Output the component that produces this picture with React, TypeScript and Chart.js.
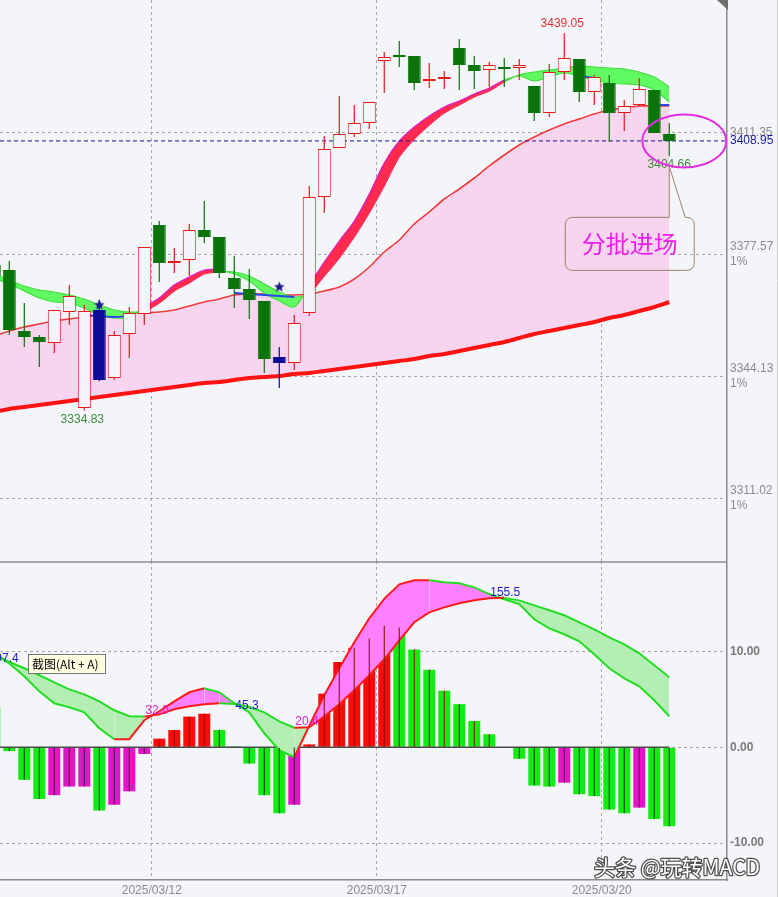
import React, { useEffect, useRef } from 'react';
import { Chart, registerables } from 'chart.js';

Chart.register(...registerables);

// ---- bar index range (first bar is only partly inside the plot) ----
const FIRST_INDEX = -1;

// ---- session separators and their date labels ----
const sessionBreaks = [9.5, 24.5, 39.5];
const sessionDates = ['2025/03/12', '2025/03/17', '2025/03/20'];

// ---- price bars ----
const opens = [3374.6, 3373.25, 3356.51, 3354.87, 3353.22, 3361.71, 3335.5, 3362.26, 3343.67, 3355.69, 3361.17, 3385.66, 3375.17, 3376.0, 3384.27, 3382.34, 3371.05, 3368.03, 3364.73, 3349.4, 3347.76, 3361.44, 3393.4, 3406.98, 3410.88, 3413.94, 3431.25, 3432.65, 3432.65, 3425.65, 3426.21, 3434.89, 3430.13, 3428.73, 3429.57, 3429.29, 3424.25, 3416.72, 3428.17, 3431.81, 3422.58, 3425.1, 3416.72, 3418.96, 3423.14, 3410.88];
const highs = [3377.0, 3375.73, 3364.18, 3355.42, 3362.3, 3369.13, 3363.63, 3365.01, 3356.51, 3363.09, 3379.58, 3386.76, 3379.31, 3385.93, 3392.29, 3382.34, 3377.1, 3373.52, 3364.73, 3352.13, 3360.89, 3396.44, 3410.32, 3421.47, 3418.96, 3419.79, 3433.76, 3436.85, 3432.65, 3430.69, 3428.45, 3437.41, 3432.65, 3430.97, 3432.08, 3431.81, 3424.25, 3430.41, 3439.05, 3431.81, 3427.33, 3427.33, 3420.35, 3426.49, 3423.14, 3413.94];
const lows = [3368.0, 3355.42, 3352.13, 3346.67, 3350.49, 3358.15, 3334.83, 3342.8, 3343.13, 3349.13, 3358.15, 3369.95, 3372.43, 3371.6, 3380.69, 3371.05, 3362.81, 3359.8, 3345.04, 3340.94, 3345.85, 3360.62, 3388.97, 3406.98, 3410.04, 3412.27, 3422.31, 3429.57, 3423.14, 3423.7, 3423.42, 3423.14, 3423.42, 3423.97, 3423.97, 3425.93, 3414.49, 3415.61, 3425.93, 3419.79, 3418.96, 3408.65, 3411.71, 3418.68, 3411.16, 3404.66];
const closes = [3371.6, 3356.78, 3354.87, 3353.5, 3362.26, 3366.1, 3361.99, 3343.13, 3355.42, 3361.44, 3379.58, 3375.17, 3375.73, 3384.27, 3382.34, 3372.43, 3368.03, 3365.01, 3348.85, 3347.76, 3358.7, 3393.4, 3406.71, 3410.88, 3413.94, 3419.79, 3432.36, 3432.36, 3425.1, 3426.21, 3426.49, 3430.13, 3428.45, 3430.13, 3429.01, 3430.13, 3416.72, 3428.17, 3432.08, 3422.58, 3426.77, 3416.72, 3418.68, 3423.42, 3411.16, 3408.95];

// bars flagged by the signal rule, and where the star sits
const signalBars = [6, 18];
const signalMarks = [3363.63, 3368.57];

// ---- moving averages ----
const maFast = [3371.05, 3369.4, 3367.48, 3365.56, 3364.46, 3364.18, 3362.81, 3360.89, 3360.07, 3360.34, 3363.09, 3365.56, 3369.13, 3371.33, 3373.25, 3373.25, 3372.15, 3370.23, 3366.93, 3364.73, 3363.09, 3369.13, 3375.45, 3381.24, 3386.76, 3394.23, 3402.82, 3408.93, 3412.83, 3415.89, 3418.4, 3420.07, 3422.02, 3423.7, 3425.93, 3427.05, 3425.65, 3426.77, 3427.89, 3427.05, 3425.93, 3425.1, 3424.82, 3424.54, 3423.14, 3419.79];
const maSlow = [3372.15, 3370.5, 3368.85, 3367.75, 3367.2, 3366.38, 3365.28, 3363.63, 3362.26, 3361.71, 3361.99, 3364.18, 3367.48, 3369.68, 3372.15, 3372.7, 3372.7, 3371.6, 3369.4, 3367.2, 3365.83, 3366.93, 3371.6, 3376.55, 3382.34, 3388.97, 3396.44, 3404.48, 3409.49, 3413.38, 3416.72, 3418.95, 3421.19, 3422.86, 3425.38, 3427.33, 3428.17, 3428.73, 3429.29, 3429.85, 3429.57, 3429.29, 3429.01, 3428.17, 3426.77, 3423.98];
const maBlue = [null, null, null, null, null, null, 3360.89, 3360.62, 3360.34, 3360.62, null, null, null, null, null, null, 3366.93, 3366.65, 3366.38, 3366.1, 3365.83, null, null, null, null, null, null, null, null, null, null, null, null, null, null, null, null, null, null, 3427.05, 3426.49, null, null, null, 3418.95, 3418.95];
const maMid = [3355.14, 3356.51, 3357.61, 3358.43, 3359.25, 3359.8, 3360.34, 3360.89, 3361.17, 3361.44, 3361.44, 3361.71, 3362.26, 3363.36, 3364.46, 3365.28, 3366.38, 3366.65, 3366.65, 3366.38, 3366.38, 3366.65, 3367.48, 3368.57, 3370.78, 3374.08, 3378.21, 3381.51, 3385.93, 3389.25, 3392.84, 3395.61, 3398.66, 3401.99, 3405.04, 3407.82, 3410.04, 3411.99, 3413.66, 3415.05, 3416.44, 3417.56, 3418.12, 3418.68, 3418.68, 3418.68];
const maLong = [3334.41, 3335.23, 3335.77, 3336.32, 3336.86, 3337.4, 3337.95, 3338.49, 3339.04, 3339.58, 3340.13, 3340.67, 3341.22, 3341.76, 3342.31, 3342.58, 3343.13, 3343.67, 3343.94, 3344.21, 3344.76, 3345.04, 3345.58, 3346.12, 3346.67, 3347.22, 3347.76, 3348.31, 3348.85, 3349.67, 3350.22, 3351.04, 3351.86, 3352.68, 3353.5, 3354.59, 3355.69, 3356.51, 3357.33, 3358.15, 3358.97, 3360.07, 3360.89, 3361.99, 3363.09, 3364.46];

// price axis ticks
const priceTicks = [3311.02, 3344.13, 3377.57, 3411.35];

// ---- MACD ----
const macdHist = [4.2, -0.4, -3.4, -5.4, -5.0, -4.1, -4.1, -6.6, -6.0, -4.6, -0.7, 0.9, 1.8, 3.2, 3.5, 1.8, 0.1, -1.7, -5.0, -6.9, -6.0, 0.3, 5.6, 8.9, 10.4, 11.35, 12.7, 12.5, 10.2, 8.1, 5.9, 4.5, 2.75, 1.36, -0.05, -1.2, -4.0, -4.1, -3.7, -4.9, -5.1, -6.5, -6.9, -6.3, -7.5, -8.25];
const difLine = [97.4, 87.5, 74.1, 58.5, 45.9, 41.8, 36.5, 19.8, 8.4, 8.4, 28.2, 37.6, 48.0, 57.4, 61.6, 57.4, 46.0, 36.5, 14.6, -3.1, -10.4, 22.5, 54.3, 82.5, 109.6, 134.7, 155.0, 170.1, 174.3, 174.3, 172.2, 171.2, 167.0, 160.0, 154.5, 149.5, 133.6, 124.2, 118.0, 110.6, 97.1, 82.5, 72.0, 63.7, 49.1, 32.4];
const deaLine = [97.4, 89.0, 82.5, 75.2, 67.8, 60.5, 55.3, 48.0, 38.6, 32.4, 32.0, 34.4, 39.7, 42.8, 44.9, 46.0, 45.3, 42.1, 36.5, 27.1, 20.4, 20.9, 32.4, 44.9, 59.5, 75.2, 91.9, 111.7, 130.5, 140.9, 146.1, 150.3, 153.4, 155.5, 156.0, 153.4, 148.2, 143.0, 137.8, 130.5, 123.2, 114.8, 107.5, 98.1, 85.6, 73.1];
const crossIndex = [-1, 9, 15, 19, 32];
const macdTicks = [-10, 0, 10];

// ---- look ----
const BG = '#f4f5f9';
const UP = '#e21c1c';
const DOWN = '#0a740a';
const SIGNAL = '#0c0c98';
const GRID = 'rgba(150,150,150,0.8)';
const AXIS = '#8a8a8a';
const PINK = '#f8d5ef';
const RIBBON_UP = 'rgb(255,42,78)';
const RIBBON_DOWN = 'rgb(98,250,98)';
const HIST_UP = '#ff0a0a';
const HIST_GREEN = '#12ec12';
const HIST_MAGENTA = '#e614c8';
const LINE_UP = '#ff1a1a';
const LINE_DOWN = '#22dd22';
const FONT = '"Liberation Sans", Arial, sans-serif';
const CJK = '"Noto Sans CJK SC", "Liberation Sans", sans-serif';

const X_MIN = -0.62;
const X_MAX = 47.85;
const PRICE_MIN = 3294.13;
const PRICE_MAX = 3448.36;
const MACD_MIN = -13.86;
const MACD_MAX = 19.45;
const crossLabelShift: Record<number, number> = { [-1]: 5, 9: -6, 15: 2, 19: -6, 32: -6 };

const xs = opens.map((_, k) => k + FIRST_INDEX);
const lastPrice = closes[closes.length - 1];
const pts = (arr: (number | null)[]) => arr.map((v, k) => ({ x: xs[k], y: v }));

function makeStar(r: number, color: string) {
  const c = document.createElement('canvas');
  const s = Math.ceil(r * 2 + 2);
  c.width = s;
  c.height = s;
  const g = c.getContext('2d')!;
  g.fillStyle = color;
  g.beginPath();
  for (let k = 0; k < 10; k++) {
    const rr = k % 2 === 0 ? r : r * 0.45;
    const a = -Math.PI / 2 + (k * Math.PI) / 5;
    const px = s / 2 + rr * Math.cos(a);
    const py = s / 2 + rr * Math.sin(a);
    if (k === 0) g.moveTo(px, py);
    else g.lineTo(px, py);
  }
  g.closePath();
  g.fill();
  return c;
}

function xAxis(withLabels: boolean) {
  return {
    type: 'linear',
    min: X_MIN,
    max: X_MAX,
    offset: false,
    afterBuildTicks: (s: any) => {
      s.ticks = sessionBreaks.map((v) => ({ value: v }));
    },
    ticks: {
      display: withLabels,
      autoSkip: false,
      maxRotation: 0,
      padding: 3,
      color: AXIS,
      font: { size: 12, family: FONT },
      callback: (_v: any, i: number) => sessionDates[i],
    },
    grid: { color: GRID, lineWidth: 1, drawTicks: false, offset: false },
    border: { display: withLabels, color: AXIS, width: 1.5, dash: [3, 3] },
    afterFit: (s: any) => {
      s.paddingLeft = 0;
      s.paddingRight = 0;
      s.height = withLabels ? 17 : 0;
    },
  };
}

const ribbonUp = (k: number) => maFast[k] >= maSlow[k] && maFast[k + 1] >= maSlow[k + 1];

const topOverlay = {
  id: 'topOverlay',
  afterDraw(chart: any) {
    const { ctx, chartArea } = chart;
    const sx = chart.scales.x;
    const sy = chart.scales.y;
    const px = (i: number) => sx.getPixelForValue(i);
    const py = (v: number) => sy.getPixelForValue(v);
    ctx.save();

    // extreme price notes
    let hi = 1;
    let lo = 1;
    for (let k = 1; k < highs.length; k++) {
      if (highs[k] > highs[hi]) hi = k;
      if (lows[k] < lows[lo]) lo = k;
    }
    const last = highs.length - 1;
    ctx.font = `12px ${FONT}`;
    ctx.textAlign = 'center';
    ctx.textBaseline = 'middle';
    ctx.fillStyle = '#e0303a';
    ctx.fillText(highs[hi].toFixed(2), px(xs[hi]) - 2, py(highs[hi]) - 9);
    ctx.fillStyle = '#3d8a3d';
    ctx.fillText(lows[lo].toFixed(2), px(xs[lo]) - 2, py(lows[lo]) + 9);
    ctx.fillText(lows[last].toFixed(2), px(xs[last]), py(lows[last]) + 8);

    // last price on the axis
    ctx.textAlign = 'left';
    ctx.fillStyle = '#1a1aa0';
    ctx.fillText(lastPrice.toFixed(2), chartArea.right + 3, py(lastPrice));

    // circled last bar
    ctx.strokeStyle = '#e42ee4';
    ctx.lineWidth = 2;
    ctx.beginPath();
    ctx.ellipse(px(xs[last]) + 15, py(lastPrice), 42, 26.5, 0, 0, Math.PI * 2);
    ctx.stroke();

    // callout
    const ax = px(xs[last]);
    const ay = py(lows[last]) + 10;
    const left = ax - 104;
    const right = ax + 25;
    const top = ay + 51;
    const bottom = top + 53;
    const r = 7;
    ctx.beginPath();
    ctx.moveTo(left + r, top);
    ctx.lineTo(ax, top);
    ctx.lineTo(ax, ay);
    ctx.lineTo(ax + 16, top);
    ctx.lineTo(right - r, top);
    ctx.arcTo(right, top, right, top + r, r);
    ctx.lineTo(right, bottom - r);
    ctx.arcTo(right, bottom, right - r, bottom, r);
    ctx.lineTo(left + r, bottom);
    ctx.arcTo(left, bottom, left, bottom - r, r);
    ctx.lineTo(left, top + r);
    ctx.arcTo(left, top, left + r, top, r);
    ctx.closePath();
    ctx.strokeStyle = '#9a8266';
    ctx.lineWidth = 1;
    ctx.stroke();
    ctx.font = `24px ${CJK}`;
    ctx.textAlign = 'center';
    ctx.fillStyle = '#ee1fee';
    ctx.fillText('分批进场', (left + right) / 2, (top + bottom) / 2);

    // corner mark and outer frame
    ctx.fillStyle = '#6e6e6e';
    ctx.beginPath();
    ctx.moveTo(chartArea.right - 10, 0);
    ctx.lineTo(chartArea.right + 1, 0);
    ctx.lineTo(chartArea.right + 1, 10);
    ctx.closePath();
    ctx.fill();
    ctx.strokeStyle = '#cfcfcf';
    ctx.lineWidth = 1;
    ctx.beginPath();
    ctx.moveTo(777.5, 0);
    ctx.lineTo(777.5, chart.height);
    ctx.stroke();
    ctx.restore();
  },
};

const bottomOverlay = {
  id: 'bottomOverlay',
  afterDraw(chart: any) {
    const { ctx, chartArea } = chart;
    const sx = chart.scales.x;
    const s2 = chart.scales.y2;
    ctx.save();

    // panel separator
    ctx.strokeStyle = '#8c8c8c';
    ctx.lineWidth = 1.5;
    ctx.beginPath();
    ctx.moveTo(0, 1);
    ctx.lineTo(chartArea.right, 1);
    ctx.stroke();

    // cross values
    ctx.font = `12px ${FONT}`;
    ctx.textAlign = 'left';
    ctx.textBaseline = 'middle';
    crossIndex.forEach((i) => {
      const k = i - FIRST_INDEX;
      const golden = difLine[k + 1] > deaLine[k + 1];
      ctx.fillStyle = golden ? '#e01ed2' : '#1c1cc8';
      ctx.fillText(
        deaLine[k].toFixed(1),
        sx.getPixelForValue(i) + 1,
        s2.getPixelForValue(deaLine[k]) + (crossLabelShift[i] ?? -6)
      );
    });

    // hint box
    ctx.fillStyle = '#ffffe1';
    ctx.fillRect(28.5, 93.5, 77, 19);
    ctx.strokeStyle = '#767676';
    ctx.lineWidth = 1;
    ctx.strokeRect(28.5, 93.5, 77, 19);
    ctx.fillStyle = '#000';
    ctx.font = `12px ${CJK}`;
    ctx.fillText('截图(Alt + A)', 32, 103.5);

    // signature
    ctx.font = `21px ${CJK}`;
    ctx.textAlign = 'right';
    ctx.lineJoin = 'round';
    ctx.strokeStyle = 'rgba(60,60,60,0.9)';
    ctx.lineWidth = 2.5;
    ctx.strokeText('头条 @玩转MACD', 760, 306);
    ctx.fillStyle = '#ffffff';
    ctx.fillText('头条 @玩转MACD', 760, 306);

    ctx.strokeStyle = '#cfcfcf';
    ctx.lineWidth = 1;
    ctx.beginPath();
    ctx.moveTo(777.5, 0);
    ctx.lineTo(777.5, chart.height);
    ctx.stroke();
    ctx.restore();
  },
};

function topConfig(): any {
  const isUp = closes.map((c, k) => c >= opens[k]);
  const isSignal = xs.map((x) => signalBars.includes(x));
  const bodyFill = xs.map((_, k) => (isSignal[k] ? SIGNAL : isUp[k] ? BG : DOWN));
  const bodyLine = xs.map((_, k) => (isSignal[k] ? SIGNAL : isUp[k] ? UP : DOWN));
  const star = makeStar(5.5, '#1c1c8c');

  return {
    type: 'line',
    data: {
      datasets: [
        {
          data: pts(maMid),
          borderColor: '#f03c3c',
          borderWidth: 1.6,
          pointRadius: 0,
          tension: 0.3,
          fill: 1,
          backgroundColor: PINK,
          order: 10,
        },
        {
          data: pts(maLong),
          borderColor: '#ff1212',
          borderWidth: 4,
          pointRadius: 0,
          tension: 0.3,
          order: 9,
        },
        {
          data: pts(maFast),
          borderWidth: 1.2,
          pointRadius: 0,
          tension: 0.3,
          fill: { target: 3, above: RIBBON_UP, below: RIBBON_DOWN },
          segment: { borderColor: (c: any) => (ribbonUp(c.p0DataIndex) ? '#d81ccf' : '#3fe03f') },
          order: 8,
        },
        {
          data: pts(maSlow),
          borderWidth: 1.2,
          pointRadius: 0,
          tension: 0.3,
          segment: { borderColor: (c: any) => (ribbonUp(c.p0DataIndex) ? '#ff2c5a' : '#3fe03f') },
          order: 7,
        },
        {
          data: pts(maBlue),
          borderColor: '#2a46e6',
          borderWidth: 1.8,
          pointRadius: 0,
          tension: 0.3,
          order: 6,
        },
        {
          data: [
            { x: X_MIN, y: lastPrice },
            { x: X_MAX, y: lastPrice },
          ],
          borderColor: '#16168e',
          borderWidth: 1,
          borderDash: [4, 3],
          pointRadius: 0,
          order: 5,
        },
        {
          type: 'bar',
          data: xs.map((x, k) => ({ x, y: [lows[k], highs[k]] })),
          backgroundColor: bodyLine,
          grouped: false,
          barPercentage: 1,
          categoryPercentage: 1.2 / 15,
          order: 4,
        },
        {
          type: 'bar',
          data: xs.map((x, k) => ({ x, y: [opens[k], closes[k]] })),
          backgroundColor: bodyFill,
          borderColor: bodyLine,
          borderWidth: 1,
          borderSkipped: false,
          minBarLength: 2,
          grouped: false,
          barPercentage: 1,
          categoryPercentage: 13 / 15,
          order: 3,
        },
        {
          data: signalBars.map((x, k) => ({ x, y: signalMarks[k] })),
          showLine: false,
          pointStyle: star,
          pointRadius: 5,
          order: 2,
        },
      ],
    },
    options: {
      animation: false,
      responsive: false,
      events: [],
      layout: { padding: 0, autoPadding: false },
      plugins: { legend: { display: false }, tooltip: { enabled: false } },
      scales: {
        x: xAxis(false),
        y: {
          type: 'logarithmic',
          position: 'right',
          min: PRICE_MIN,
          max: PRICE_MAX,
          bounds: 'data',
          afterBuildTicks: (s: any) => {
            s.ticks = priceTicks.map((v) => ({ value: v }));
          },
          ticks: {
            padding: 3,
            color: '#8c8c8c',
            font: { size: 12, family: FONT },
            callback: (_v: any, i: number) =>
              i === priceTicks.length - 1 ? priceTicks[i].toFixed(2) : [priceTicks[i].toFixed(2), '1%'],
          },
          grid: { color: GRID, lineWidth: 1, drawTicks: false },
          border: { display: true, color: AXIS, width: 1.5, dash: [3, 3] },
          afterFit: (s: any) => {
            s.width = 51;
            s.paddingTop = 0;
            s.paddingBottom = 0;
          },
        },
      },
    },
    plugins: [topOverlay],
  };
}

function bottomConfig(): any {
  const histColor = macdHist.map((v, k) => {
    const prev = k > 0 ? macdHist[k - 1] : Infinity;
    if (v >= 0) return v >= prev ? HIST_UP : HIST_GREEN;
    return v < prev ? HIST_GREEN : HIST_MAGENTA;
  });
  const stickColor = macdHist.map((v) => (v >= 0 ? '#8a1500' : 'rgba(35,35,35,0.85)'));
  const slopeColor = (arr: number[]) => (c: any) =>
    arr[c.p1DataIndex] >= arr[c.p0DataIndex] ? LINE_UP : LINE_DOWN;

  return {
    type: 'line',
    data: {
      datasets: [
        {
          type: 'bar',
          data: pts(macdHist),
          backgroundColor: histColor,
          grouped: false,
          barPercentage: 1,
          categoryPercentage: 0.8,
          yAxisID: 'y',
          order: 10,
        },
        {
          data: [
            { x: xs[0], y: 0 },
            { x: xs[xs.length - 1], y: 0 },
          ],
          borderColor: '#4a4a4a',
          borderWidth: 1.5,
          pointRadius: 0,
          yAxisID: 'y',
          order: 9,
        },
        {
          data: pts(difLine),
          yAxisID: 'y2',
          borderWidth: 2,
          pointRadius: 0,
          fill: { target: 3, above: '#ff80ff', below: '#b4eeb4' },
          segment: { borderColor: slopeColor(difLine) },
          order: 8,
        },
        {
          data: pts(deaLine),
          yAxisID: 'y2',
          borderWidth: 2,
          pointRadius: 0,
          segment: { borderColor: slopeColor(deaLine) },
          order: 7,
        },
        {
          type: 'bar',
          data: pts(macdHist),
          backgroundColor: stickColor,
          grouped: false,
          barPercentage: 1,
          categoryPercentage: 1.1 / 15,
          yAxisID: 'y',
          order: 6,
        },
      ],
    },
    options: {
      animation: false,
      responsive: false,
      events: [],
      layout: { padding: 0, autoPadding: false },
      plugins: { legend: { display: false }, tooltip: { enabled: false } },
      scales: {
        x: xAxis(true),
        y: {
          type: 'linear',
          position: 'right',
          min: MACD_MIN,
          max: MACD_MAX,
          afterBuildTicks: (s: any) => {
            s.ticks = macdTicks.map((v) => ({ value: v }));
          },
          ticks: {
            padding: 3,
            color: '#7a7a7a',
            font: { size: 12, family: FONT, weight: 'bold' },
            callback: (v: any) => Number(v).toFixed(2),
          },
          grid: { color: GRID, lineWidth: 1, drawTicks: false },
          border: { display: true, color: AXIS, width: 1.5, dash: [3, 3] },
          afterFit: (s: any) => {
            s.width = 51;
            s.paddingTop = 0;
            s.paddingBottom = 0;
          },
        },
        y2: {
          type: 'linear',
          display: false,
          min: MACD_MIN * 10,
          max: MACD_MAX * 10,
        },
      },
    },
    plugins: [bottomOverlay],
  };
}

export default function App() {
  const topRef = useRef<HTMLCanvasElement>(null);
  const bottomRef = useRef<HTMLCanvasElement>(null);

  useEffect(() => {
    document.body.style.margin = '0';
    document.body.style.background = BG;
    Chart.defaults.font.family = FONT;
    const top = new Chart(topRef.current!, topConfig());
    const bottom = new Chart(bottomRef.current!, bottomConfig());
    return () => {
      top.destroy();
      bottom.destroy();
    };
  }, []);

  return (
    <div style={{ position: 'relative', width: 778, height: 897, background: BG, overflow: 'hidden' }}>
      <canvas ref={topRef} width={778} height={561} style={{ position: 'absolute', left: 0, top: 0 }} />
      <canvas ref={bottomRef} width={778} height={336} style={{ position: 'absolute', left: 0, top: 561 }} />
    </div>
  );
}
